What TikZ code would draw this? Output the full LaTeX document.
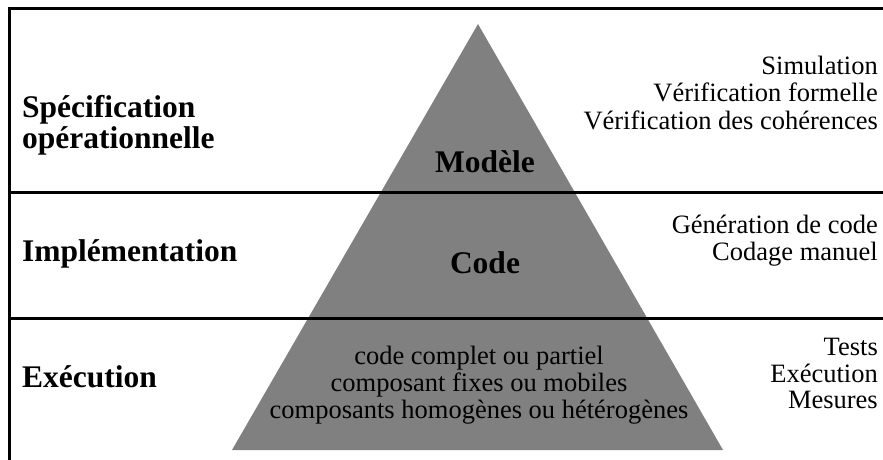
\documentclass[tikz,border=0pt]{standalone}
\usepackage{fontspec}
\setmainfont{Liberation Serif}
\usepackage{xcolor}
\usepackage{tikz}
\usetikzlibrary{positioning}
\definecolor{pyr}{HTML}{808080}

\begin{document}
\begin{tikzpicture}[x=1pt,y=-1pt,
  rule/.style={draw=black,line width=3pt},
  lvl/.style={inner sep=0pt,anchor=base west,
              font=\fontsize{31.5}{31}\selectfont\bfseries},
  art/.style={inner sep=0pt,anchor=base,
              font=\fontsize{31.5}{31}\selectfont\bfseries},
  act/.style={inner sep=0pt,anchor=base east,
              font=\fontsize{26.5}{27}\selectfont},
  prop/.style={inner sep=0pt,anchor=base,
               font=\fontsize{26.5}{27}\selectfont}]
\useasboundingbox (0,0) rectangle (883,459);

% pyramid
\coordinate (apex) at (478,24);
\coordinate (bl) at (232,450);
\coordinate (br) at (723,450);
\fill[pyr] (apex) -- (br) -- (bl) -- cycle;

% frame and level separators
\draw[rule] (883,8) -- (9.5,8) -- (9.5,460);
\draw[rule] (9.5,192.5) -- (883,192.5);
\draw[rule] (9.5,318) -- (883,318);

% levels
\node[lvl] (spec1) at (22,117) {Spécification};
\node[lvl] (spec2) at (22,148) {opérationnelle};
\node[lvl] (impl)  at (22,261) {Implémentation};
\node[lvl] (exec)  at (22,387) {Exécution};

% artefacts
\node[art] (modele) at (485,172) {Modèle};
\node[art] (code)   at (485,273) {Code};
\node[prop] (p1) at (479,364) {code complet ou partiel};
\node[prop] (p2) at (479,391) {composant fixes ou mobiles};
\node[prop] (p3) at (479,418) {composants homogènes ou hétérogènes};

% activities
\node[act] (a1) at (878,74)  {Simulation};
\node[act] (a2) at (878,101) {Vérification formelle};
\node[act] (a3) at (878,129) {Vérification des cohérences};
\node[act] (b1) at (878,233) {Génération de code};
\node[act] (b2) at (878,260) {Codage manuel};
\node[act] (c1) at (878,355) {Tests};
\node[act] (c2) at (878,382) {Exécution};
\node[act] (c3) at (878,408) {Mesures};
\end{tikzpicture}
\end{document}
